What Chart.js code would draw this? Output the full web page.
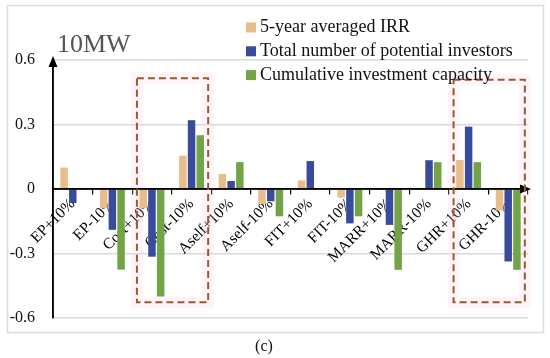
<!DOCTYPE html>
<html>
<head>
<meta charset="utf-8">
<script src="https://cdn.jsdelivr.net/npm/chart.js@4"></script>
<style>
  html, body { margin: 0; padding: 0; background: #fff; }
  #wrap { width: 550px; height: 358px; }
</style>
</head>
<body>
<div id="wrap"><canvas id="sensChart" width="550" height="358"></canvas></div>
<script>
const categories = ['EP+10%', 'EP-10%', 'Cost+10%', 'Cost-10%', 'Aself+10%', 'Aself-10%',
    'FIT+10%', 'FIT-10%', 'MARR+10%', 'MARR-10%', 'GHR+10%', 'GHR-10%'];
const irr = [0.10, -0.09, -0.09, 0.155, 0.07, -0.07, 0.04, -0.04, 0, 0, 0.135, -0.10];
const investors = [-0.065, -0.19, -0.315, 0.32, 0.037, -0.057, 0.13, -0.16, -0.167, 0.134, 0.29, -0.337];
const capacity = [0, -0.375, -0.50, 0.25, 0.125, -0.127, 0, -0.127, -0.376, 0.125, 0.125, -0.376];
const yTicks = [-0.6, -0.3, 0, 0.3, 0.6];
// highlighted groups: [first category, last category, top value, bottom value]
const highlights = [[2, 3, 0.515, -0.527], [10, 11, 0.508, -0.527]];

const serif = '"Liberation Serif", "DejaVu Serif", serif';

const decorations = {
    id: 'decorations',
    beforeDraw(chart) {
        const c = chart.ctx;
        c.save();
        c.fillStyle = '#fff';
        c.fillRect(0, 0, chart.width, chart.height);
        c.strokeStyle = '#dcdcdc';
        c.lineWidth = 1.5;
        c.strokeRect(7.5, 5.5, 536, 327);
        c.restore();
    },
    beforeDatasetsDraw(chart) {
        const c = chart.ctx, x = chart.scales.x, y = chart.scales.y;
        const w = x.getPixelForValue(1) - x.getPixelForValue(0);
        c.save();
        c.strokeStyle = 'rgba(252, 205, 230, 0.22)';
        c.lineWidth = 12;
        highlights.forEach(h => {
            const l = x.getPixelForValue(h[0]) - w * 0.38;
            const r = x.getPixelForValue(h[1]) + w * 0.42;
            c.strokeRect(l, y.getPixelForValue(h[2]), r - l, y.getPixelForValue(h[3]) - y.getPixelForValue(h[2]));
        });
        c.restore();
    },
    afterDatasetsDraw(chart) {
        const c = chart.ctx, a = chart.chartArea, x = chart.scales.x, y = chart.scales.y;
        const w = x.getPixelForValue(1) - x.getPixelForValue(0);
        const y0 = y.getPixelForValue(0);
        c.save();
        // axes with arrows
        c.strokeStyle = '#000';
        c.fillStyle = '#000';
        c.lineWidth = 1.5;
        c.beginPath();
        c.moveTo(a.left, y0);
        c.lineTo(a.right - 4, y0);
        c.moveTo(a.left, a.bottom);
        c.lineTo(a.left, a.top + 4);
        c.stroke();
        c.beginPath();
        c.moveTo(a.right + 3, y0);
        c.lineTo(a.right - 8, y0 - 4.5);
        c.lineTo(a.right - 8, y0 + 4.5);
        c.closePath();
        c.fill();
        c.beginPath();
        c.moveTo(a.left, a.top - 4);
        c.lineTo(a.left - 4.5, a.top + 7);
        c.lineTo(a.left + 4.5, a.top + 7);
        c.closePath();
        c.fill();

        // dashed highlight boxes
        c.strokeStyle = '#9a5a28';
        c.lineWidth = 2;
        c.setLineDash([7, 4]);
        highlights.forEach(h => {
            const l = x.getPixelForValue(h[0]) - w * 0.38;
            const r = x.getPixelForValue(h[1]) + w * 0.42;
            c.strokeRect(l, y.getPixelForValue(h[2]), r - l, y.getPixelForValue(h[3]) - y.getPixelForValue(h[2]));
        });
        c.setLineDash([]);

        // title
        c.fillStyle = '#555';
        c.font = '26px ' + serif;
        c.textBaseline = 'alphabetic';
        c.textAlign = 'left';
        c.fillText('10MW', 57, 52);

        // legend
        c.font = '18px ' + serif;
        c.textBaseline = 'middle';
        chart.data.datasets.forEach((ds, i) => {
            const ly = 27.5 + i * 23.8;
            c.fillStyle = ds.backgroundColor;
            c.fillRect(246, ly - 5, 10, 10);
            c.fillStyle = '#111';
            c.fillText(ds.label, 260, ly);
        });

        // caption
        c.font = '16px ' + serif;
        c.textAlign = 'center';
        c.fillText('(c)', 264, 347);
        c.restore();
    }
};

new Chart(document.getElementById('sensChart').getContext('2d'), {
    type: 'bar',
    data: {
        labels: categories,
        datasets: [{
            label: '5-year averaged IRR',
            data: irr,
            backgroundColor: '#e8bd8b'
        }, {
            label: 'Total number of potential investors',
            data: investors,
            backgroundColor: '#3a4b9c'
        }, {
            label: 'Cumulative investment capacity',
            data: capacity,
            backgroundColor: '#72a447'
        }]
    },
    options: {
        responsive: false,
        animation: false,
        categoryPercentage: 0.66,
        barPercentage: 0.86,
        layout: {
            padding: { left: 8, top: 60, right: 22, bottom: 40 }
        },
        scales: {
            x: {
                position: { y: 0 },
                afterFit: s => { s.height = 0; s.paddingLeft = 0; s.paddingRight = 0; },
                grid: {
                    drawOnChartArea: false,
                    tickLength: 5,
                    color: '#000',
                    lineWidth: 1.2
                },
                border: { color: '#000', width: 1.5 },
                ticks: {
                    minRotation: 45,
                    maxRotation: 45,
                    autoSkip: false,
                    padding: 1,
                    color: '#000',
                    font: { family: serif, size: 15.5 }
                }
            },
            y: {
                min: yTicks[0],
                max: yTicks[yTicks.length - 1],
                afterFit: s => { s.width = 45; },
                afterBuildTicks: s => { s.ticks = yTicks.map(v => ({ value: v })); },
                grid: {
                    drawTicks: false,
                    color: ctx => (ctx.tick && ctx.tick.value === 0) ? 'rgba(0,0,0,0)' : '#d9d9d9',
                    lineWidth: 1.5
                },
                border: { color: '#000', width: 1.5 },
                ticks: {
                    padding: 18,
                    color: '#111',
                    font: { family: serif, size: 16 },
                    callback: v => v === 0 ? '0' : v.toFixed(1)
                }
            }
        },
        plugins: {
            legend: { display: false },
            tooltip: { enabled: false }
        }
    },
    plugins: [decorations]
});
</script>
</body>
</html>
